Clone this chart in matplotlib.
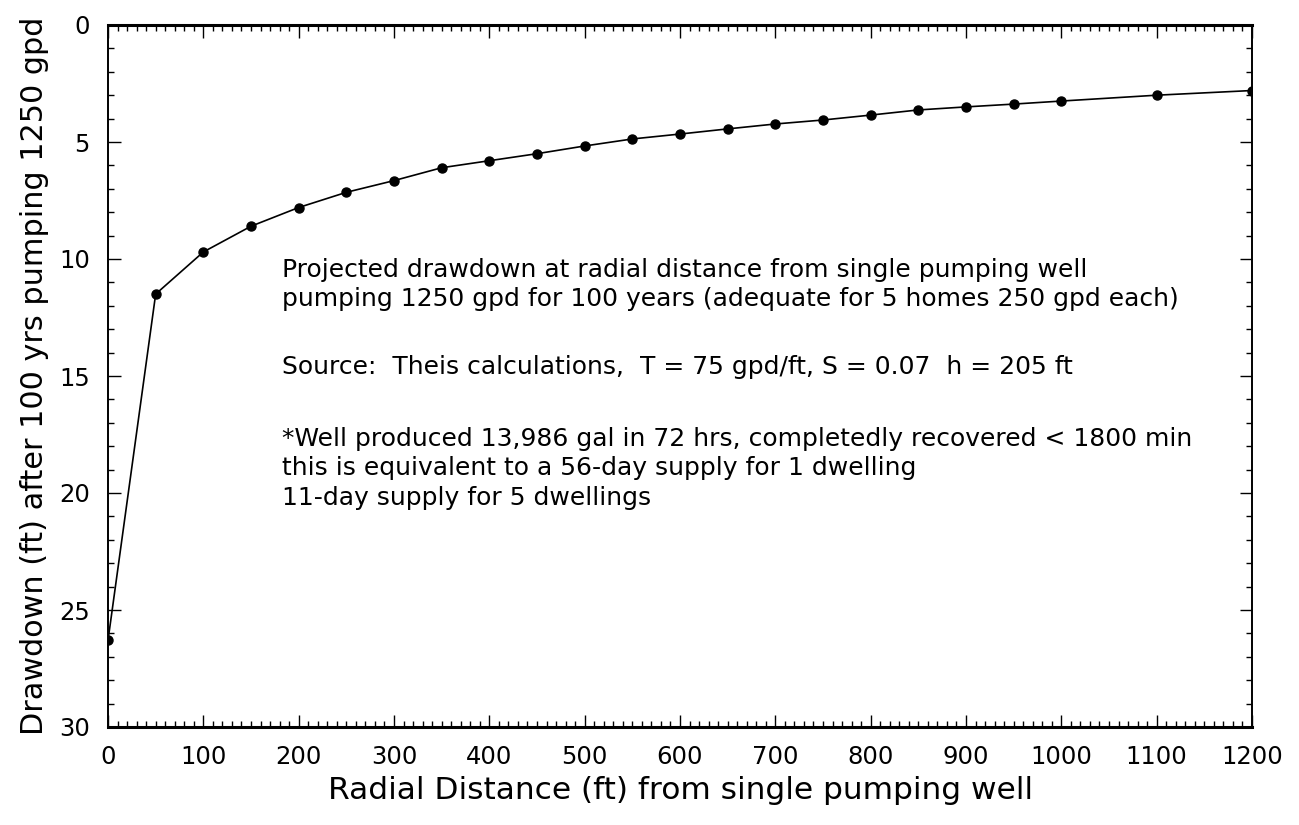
import matplotlib.pyplot as plt
from matplotlib.ticker import MultipleLocator

plt.rcParams['font.family'] = ['DejaVu Sans']

# radial distance (ft) and projected drawdown (ft) after 100 yrs
distance = [0, 50, 100, 150, 200, 250, 300, 350, 400, 450, 500, 550, 600,
            650, 700, 750, 800, 850, 900, 950, 1000, 1100, 1200]
drawdown = [26.3, 11.5, 9.7, 8.6, 7.8, 7.15, 6.65, 6.1, 5.8, 5.5, 5.17, 4.87,
            4.66, 4.44, 4.23, 4.06, 3.85, 3.63, 3.5, 3.38, 3.25, 3.0, 2.8]

note_lines = [
    "Projected drawdown at radial distance from single pumping well",
    "pumping 1250 gpd for 100 years (adequate for 5 homes 250 gpd each)",
    "Source:  Theis calculations,  T = 75 gpd/ft, S = 0.07  h = 205 ft",
    "*Well produced 13,986 gal in 72 hrs, completedly recovered < 1800 min",
    "this is equivalent to a 56-day supply for 1 dwelling",
    "11-day supply for 5 dwellings",
]
note_y = [10.45, 11.7, 14.6, 17.7, 18.95, 20.2]

fig = plt.figure(figsize=(12.99, 8.25), dpi=100)
ax = fig.add_axes([108 / 1299, 1 - 727 / 825, (1252 - 108) / 1299, (727 - 25) / 825])

ax.plot(distance, drawdown, color='black', linewidth=1.2, marker='o',
        markersize=6.5, markerfacecolor='black', markeredgecolor='black')

ax.set_xlim(0, 1200)
ax.set_ylim(30, 0)
ax.xaxis.set_major_locator(MultipleLocator(100))
ax.xaxis.set_minor_locator(MultipleLocator(10))
ax.yaxis.set_major_locator(MultipleLocator(5))
ax.yaxis.set_minor_locator(MultipleLocator(1))

ax.tick_params(which='both', direction='in', top=True, right=True, width=1.0)
ax.tick_params(which='major', length=9, labelsize=17.5, pad=13)
ax.tick_params(which='minor', length=4)
for s in ax.spines.values():
    s.set_linewidth(1.4)
ax.spines['top'].set_linewidth(2.2)
ax.spines['bottom'].set_linewidth(2.2)

ax.set_xlabel("Radial Distance (ft) from single pumping well", fontsize=22.5, labelpad=5)
ax.set_ylabel("Drawdown (ft) after 100 yrs pumping 1250 gpd", fontsize=21.8, labelpad=7)

for line, y in zip(note_lines, note_y):
    ax.text(183, y, line, fontsize=18, ha='left', va='center')

fig.savefig('out.png', dpi=100)
